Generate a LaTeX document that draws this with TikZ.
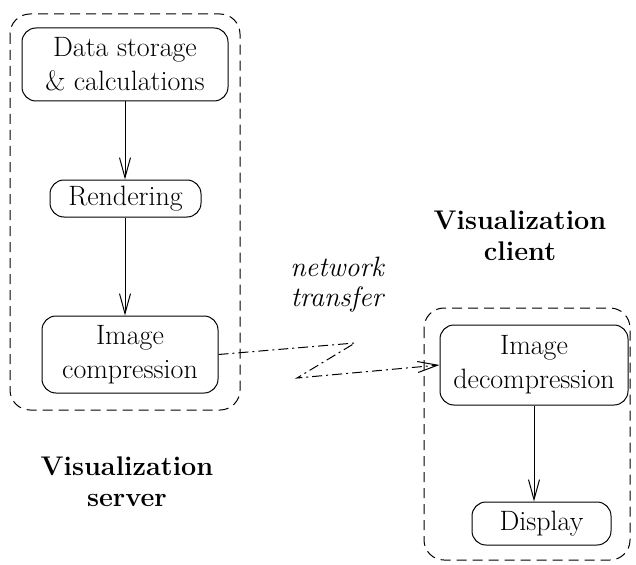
\documentclass[tikz,border=0pt]{standalone}
\usetikzlibrary{arrows.meta}
\begin{document}
\begin{tikzpicture}[x=1pt,y=-1pt,
  proc/.style={draw,rounded corners=14pt,line width=1pt,align=center,
    inner xsep=4pt,inner ysep=4pt,font=\fontsize{28}{34}\selectfont},
  group/.style={draw,dash pattern=on 10pt off 6pt,rounded corners=20pt,line width=1pt},
  flow/.style={line width=1pt,-{Straight Barb[length=20pt,width=11pt,line width=1pt]}},
  net/.style={line width=1pt,dash pattern=on 10pt off 4pt on 2pt off 4pt,
    -{Straight Barb[length=20pt,width=11pt,line width=1pt]}},
  lbl/.style={align=center,font=\fontsize{27}{31}\selectfont\bfseries},
  itl/.style={align=center,font=\fontsize{28}{30}\selectfont\itshape}]
\useasboundingbox (0,0) rectangle (636,564);
% groups
\draw[group] (10,14) rectangle (240,410);
\draw[group] (424,308) rectangle (630,560);
% nodes
\node[proc,minimum width=206pt,minimum height=73pt] (data) at (125,64.5) {Data storage\\\& calculations};
\node[proc,minimum width=151pt,minimum height=37pt] (rend) at (125.5,198.5) {Rendering};
\node[proc,minimum width=176pt,minimum height=77pt] (comp) at (130,354.5) {Image\\compression};
\node[proc,minimum width=188pt,minimum height=80pt] (decomp) at (534,365) {Image\\decompression};
\node[proc,minimum width=139pt,minimum height=43pt] (disp) at (541.5,523.5) {Display};
% labels
\node[lbl] (srv) at (127,482) {Visualization\\server};
\node[lbl] (cli) at (520,236) {Visualization\\client};
\node[itl] (nt) at (337,285) {network\\transfer};
% connectors
\coordinate (a1) at (125,0);
\draw[flow] (data.south -| a1) -- (rend.north -| a1);
\draw[flow] (rend.south -| a1) -- (comp.north -| a1);
\draw[flow] (decomp.south) -- (decomp.south |- disp.north);
\coordinate (z1) at (355,343);
\coordinate (z2) at (297,378);
\draw[net] (comp.east) -- (z1) -- (z2) -- (decomp.west);
\end{tikzpicture}
\end{document}
